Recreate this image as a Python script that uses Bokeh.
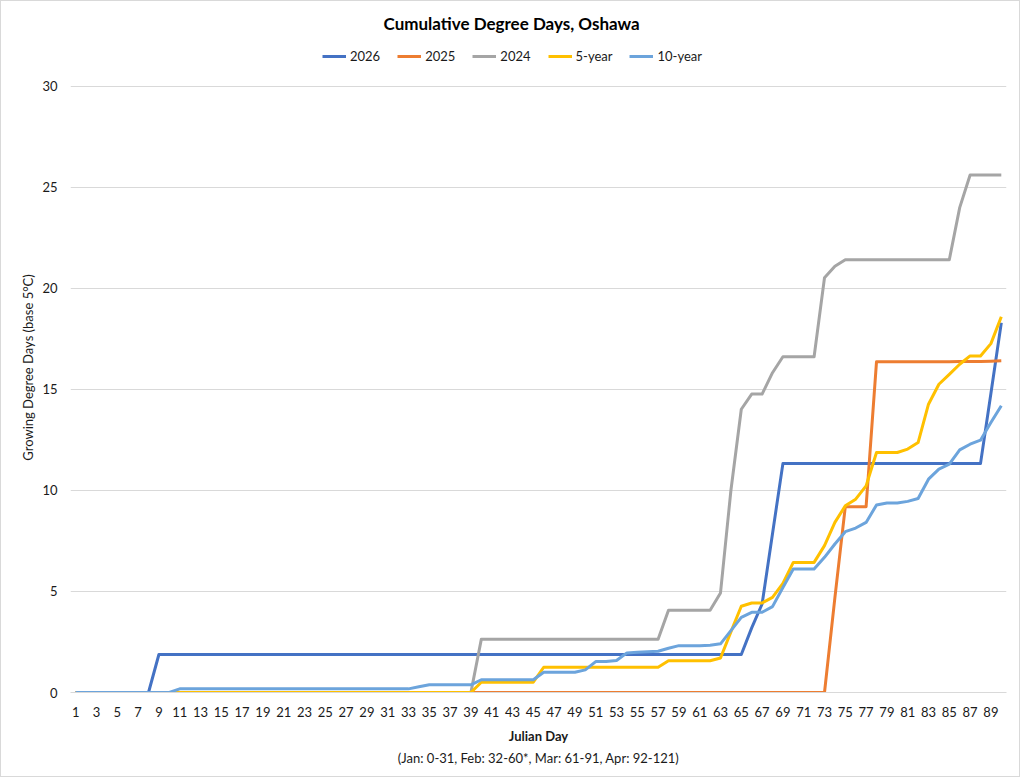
from bokeh.plotting import figure
from bokeh.models import Legend, LegendItem, Title, FixedTicker, Range1d
from bokeh.embed import file_html
from bokeh.resources import INLINE

# ---------------- data ----------------
days = list(range(1, 91))
tick_days = list(range(1, 90, 2))
y_ticks = [0, 5, 10, 15, 20, 25, 30]

series_names = ["2026", "2025", "2024", "5-year", "10-year"]
series_colors = ["#4472C4", "#ED7D31", "#A5A5A5", "#FFC000", "#6CA4DC"]

y2026 = [
    0, 0, 0, 0, 0, 0, 0, 0, 1.88, 1.88,
    1.88, 1.88, 1.88, 1.88, 1.88, 1.88, 1.88, 1.88, 1.88, 1.88,
    1.88, 1.88, 1.88, 1.88, 1.88, 1.88, 1.88, 1.88, 1.88, 1.88,
    1.88, 1.88, 1.88, 1.88, 1.88, 1.88, 1.88, 1.88, 1.88, 1.88,
    1.88, 1.88, 1.88, 1.88, 1.88, 1.88, 1.88, 1.88, 1.88, 1.88,
    1.88, 1.88, 1.88, 1.88, 1.88, 1.88, 1.88, 1.88, 1.88, 1.88,
    1.88, 1.88, 1.88, 1.88, 1.88, 3.2, 4.38, 7.86, 11.33, 11.33,
    11.33, 11.33, 11.33, 11.33, 11.33, 11.33, 11.33, 11.33, 11.33, 11.33,
    11.33, 11.33, 11.33, 11.33, 11.33, 11.33, 11.33, 11.33, 14.8, 18.3,
]

y2025 = [
    0, 0, 0, 0, 0, 0, 0, 0, 0, 0,
    0, 0, 0, 0, 0, 0, 0, 0, 0, 0,
    0, 0, 0, 0, 0, 0, 0, 0, 0, 0,
    0, 0, 0, 0, 0, 0, 0, 0, 0, 0,
    0, 0, 0, 0, 0, 0, 0, 0, 0, 0,
    0, 0, 0, 0, 0, 0, 0, 0, 0, 0,
    0, 0, 0, 0, 0, 0, 0, 0, 0, 0,
    0, 0, 0, 4.7, 9.2, 9.2, 9.2, 16.37, 16.37, 16.37,
    16.37, 16.37, 16.37, 16.37, 16.37, 16.38, 16.38, 16.39, 16.4, 16.42,
]

y2024 = [
    0, 0, 0, 0, 0, 0, 0, 0, 0, 0,
    0, 0, 0, 0, 0, 0, 0, 0, 0, 0,
    0, 0, 0, 0, 0, 0, 0, 0, 0, 0,
    0, 0, 0, 0, 0, 0, 0, 0, 0, 2.63,
    2.63, 2.63, 2.63, 2.63, 2.63, 2.63, 2.63, 2.63, 2.63, 2.63,
    2.63, 2.63, 2.63, 2.63, 2.63, 2.63, 2.63, 4.07, 4.07, 4.07,
    4.07, 4.07, 4.93, 10.0, 14.02, 14.77, 14.77, 15.83, 16.62, 16.62,
    16.62, 16.62, 20.53, 21.1, 21.42, 21.42, 21.42, 21.42, 21.42, 21.42,
    21.42, 21.42, 21.42, 21.42, 21.42, 24.0, 25.62, 25.62, 25.62, 25.62,
]

y5yr = [
    0, 0, 0, 0, 0, 0, 0, 0, 0, 0,
    0, 0, 0, 0, 0, 0, 0, 0, 0, 0,
    0, 0, 0, 0, 0, 0, 0, 0, 0, 0,
    0, 0, 0, 0, 0, 0, 0, 0, 0, 0.51,
    0.51, 0.51, 0.51, 0.51, 0.51, 1.25, 1.25, 1.25, 1.25, 1.25,
    1.25, 1.25, 1.25, 1.25, 1.25, 1.25, 1.25, 1.57, 1.57, 1.57,
    1.57, 1.57, 1.71, 3.0, 4.27, 4.43, 4.43, 4.71, 5.4, 6.44,
    6.44, 6.44, 7.27, 8.42, 9.24, 9.57, 10.23, 11.88, 11.88, 11.88,
    12.05, 12.37, 14.27, 15.26, 15.75, 16.25, 16.66, 16.66, 17.27, 18.6,
]

y10yr = [
    0, 0, 0, 0, 0, 0, 0, 0, 0, 0,
    0.18, 0.18, 0.18, 0.18, 0.18, 0.18, 0.18, 0.18, 0.18, 0.18,
    0.18, 0.18, 0.18, 0.18, 0.18, 0.18, 0.18, 0.18, 0.18, 0.18,
    0.18, 0.18, 0.18, 0.28, 0.38, 0.38, 0.38, 0.38, 0.38, 0.63,
    0.63, 0.63, 0.63, 0.63, 0.63, 1.0, 1.0, 1.0, 1.0, 1.12,
    1.53, 1.53, 1.58, 1.96, 1.99, 2.02, 2.04, 2.19, 2.32, 2.32,
    2.32, 2.34, 2.41, 3.06, 3.72, 3.97, 3.97, 4.25, 5.2, 6.11,
    6.11, 6.11, 6.69, 7.35, 7.96, 8.14, 8.42, 9.28, 9.38, 9.38,
    9.46, 9.6, 10.56, 11.06, 11.3, 12.01, 12.29, 12.49, 13.36, 14.19,
]

series_values = [y2026, y2025, y2024, y5yr, y10yr]

title_text = "Cumulative Degree Days, Oshawa"
x_title = "Julian Day"
x_subtitle = "(Jan: 0-31, Feb: 32-60*, Mar: 61-91, Apr: 92-121)"
y_title = "Growing Degree Days (base 5°C)"

FONT = "Lato"
TXT = "#1a1a1a"

# ---------------- figure ----------------
# frame extends above the 30 gridline to hold the legend (no gridline there)
p = figure(
    width=1020, height=777,
    output_backend="svg", toolbar_location=None,
    x_range=Range1d(0.5, 90.5), y_range=Range1d(0, 32.175),
    min_border_left=69, min_border_right=15,
    min_border_top=40, min_border_bottom=86,
)
p.outline_line_color = None
p.background_fill_color = "white"
p.border_fill_color = "white"
p.styles = {"border": "1px solid #D9D9D9"}

p.xgrid.visible = False
p.ygrid.grid_line_color = "#D9D9D9"
p.ygrid.grid_line_width = 1
p.yaxis.ticker = FixedTicker(ticks=y_ticks)
p.xaxis.ticker = FixedTicker(ticks=tick_days)

for ax in (p.xaxis, p.yaxis):
    ax.major_tick_line_color = None
    ax.minor_tick_line_color = None
    ax.major_label_text_font = FONT
    ax.major_label_text_font_size = "13px"
    ax.major_label_text_color = TXT
    ax.axis_label_text_font = FONT
    ax.axis_label_text_color = TXT
    ax.axis_label_text_font_size = "13px"

p.xaxis.axis_line_color = "#D9D9D9"
p.yaxis.axis_line_color = None
p.xaxis.major_label_standoff = 8
p.yaxis.major_label_standoff = 7
p.xaxis.axis_label = x_title
p.xaxis.axis_label_text_font_style = "bold"
p.xaxis.axis_label_standoff = 8
p.yaxis.axis_label = y_title
p.yaxis.axis_label_text_font_style = "normal"
p.yaxis.axis_label_standoff = 3

renderers = []
for name, vals, col in zip(series_names, series_values, series_colors):
    r = p.line(days, vals, line_color=col, line_width=3, line_join="round")
    renderers.append(r)

legend = Legend(
    items=[LegendItem(label=n, renderers=[r]) for n, r in zip(series_names, renderers)],
    orientation="horizontal", location=(252, 628),
    padding=0, margin=0, spacing=17,
    glyph_width=24, glyph_height=16, label_standoff=4,
    label_text_font=FONT, label_text_font_size="13px", label_text_color=TXT,
    label_height=16,
    border_line_color=None, background_fill_alpha=0,
)
p.add_layout(legend, "center")

p.title.text = title_text
p.title.align = "left"
p.title.offset = 313
p.title.text_font = FONT
p.title.text_font_size = "17px"
p.title.text_font_style = "bold"
p.title.text_color = "black"
if "standoff" in p.title.properties():
    p.title.standoff = 18

sub = Title(text=x_subtitle, align="center", text_font=FONT, text_font_size="13px",
            text_font_style="normal", text_color=TXT)
if "standoff" in sub.properties():
    sub.standoff = 2
p.add_layout(sub, "below")

open("out.html", "w").write(file_html(p, INLINE))
